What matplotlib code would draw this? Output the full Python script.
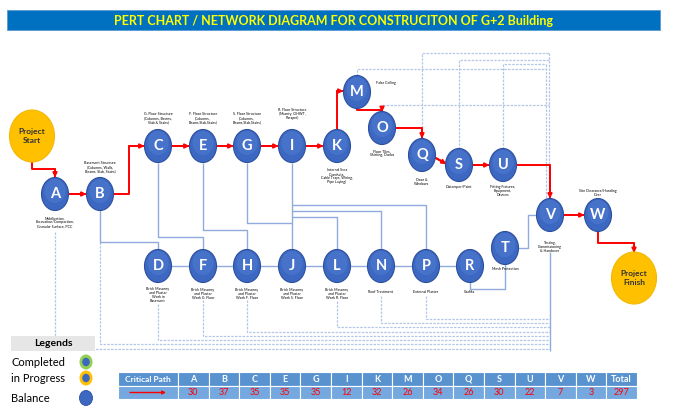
import matplotlib
matplotlib.use("Agg")
import matplotlib.pyplot as plt
from matplotlib.patches import Ellipse, Rectangle

plt.rcParams['font.family'] = ['Lato', 'DejaVu Sans']

# critical path table
path_nodes = ['A', 'B', 'C', 'E', 'G', 'I', 'K', 'M', 'O', 'Q', 'S', 'U', 'V', 'W']
path_days = [30, 37, 35, 35, 35, 12, 32, 26, 34, 26, 30, 22, 7, 3]
path_total = 297

# activities and their notes
activities = ['A', 'B', 'C', 'D', 'E', 'F', 'G', 'H', 'I', 'J', 'K', 'L',
              'M', 'N', 'O', 'P', 'Q', 'R', 'S', 'T', 'U', 'V', 'W']
notes = {
    'A': 'Mobilization,\nExcavation/Compaction,\nGranular Surface, PCC',
    'B': 'Basement Structure\n(Columns, Walls,\nBeams, Slab, Stairs)',
    'C': 'G. Floor Structure\n(Columns, Beams,\nSlab & Stairs)',
    'D': 'Brick Masonry\nand Plaster\nWork in\nBasement',
    'E': 'F. Floor Structure\n(Columns,\nBeams,Slab,Stairs)',
    'F': 'Brick Masonry\nand Plaster\nWork G. Floor',
    'G': 'S. Floor Structure\n(Columns,\nBeams,Slab,Stairs)',
    'H': 'Brick Masonry\nand Plaster\nWork F. Floor',
    'I': 'R. Floor Structure\n(Mumty, OHWT,\nParapet)',
    'J': 'Brick Masonry\nand Plaster\nWork S. Floor',
    'K': 'Internal Svcs\n(Conduits,\nCable Trays, Wiring,\nPipe Laying)',
    'L': 'Brick Masonry\nand Plaster\nWork R. Floor',
    'M': 'False Ceiling',
    'N': 'Roof Treatment',
    'O': 'Floor Tiles,\nSkirting, Dados',
    'P': 'External Plaster',
    'Q': 'Door &\nWindows',
    'R': 'Grafiks',
    'S': 'Distemper/Paint',
    'T': 'Mesh Protection',
    'U': 'Fitting Fixtures,\nEquipment,\nDevices',
    'V': 'Testing,\nCommissioning\n& Handover',
    'W': 'Site Clearance/Handing\nOver',
}

# layout (pixel space of the 680x412 canvas)
TOP, BOT = 146, 266
pos = {
    'A': (55, 194), 'B': (100, 194),
    'C': (158, TOP), 'E': (203, TOP), 'G': (247, TOP), 'I': (292, TOP), 'K': (337, TOP),
    'D': (158, BOT), 'F': (203, BOT), 'H': (247, BOT), 'J': (292, BOT), 'L': (337, BOT),
    'N': (381, BOT), 'P': (426, BOT), 'R': (470, BOT),
    'M': (357, 92), 'O': (382, 128), 'Q': (422, 155), 'S': (459, 165), 'U': (503, 165),
    'T': (505, 248), 'V': (550, 215), 'W': (598, 215),
}
note_pos = {
    'A': (55, 222), 'B': (100, 167), 'C': (158, 118), 'E': (203, 118), 'G': (247, 118),
    'I': (292, 114), 'K': (337, 176), 'M': (386, 83), 'O': (382, 153), 'Q': (422, 182),
    'S': (459, 187), 'U': (503, 191), 'V': (550, 247), 'W': (598, 193), 'T': (505, 269),
    'D': (158, 295), 'F': (203, 294), 'H': (247, 294), 'J': (292, 294), 'L': (337, 294),
    'N': (381, 292), 'P': (426, 292), 'R': (470, 292),
}
RX, RY = 13.5, 16.5

SOLID = '#8FAADC'
DASH = '#B4C7E7'
RED = '#FF0000'

fig = plt.figure(figsize=(6.8, 4.12), dpi=100)
ax = fig.add_axes([0, 0, 1, 1])
ax.set_xlim(0, 680)
ax.set_ylim(412, 0)
ax.axis('off')


def line(pts, color=SOLID, lw=1.0, ls='-', z=1):
    xs, ys = zip(*pts)
    ax.plot(xs, ys, color=color, lw=lw, ls=ls, zorder=z, solid_capstyle='butt')


def red(pts):
    line(pts, color=RED, lw=1.4, z=3)
    ax.annotate('', xy=pts[-1], xytext=pts[-2],
                arrowprops=dict(arrowstyle='-|>', color=RED, lw=1.4,
                                mutation_scale=6, shrinkA=0, shrinkB=0), zorder=4)


# title bar
ax.add_patch(Rectangle((7, 10), 653, 20, facecolor='#0070C0', edgecolor='#5B9BD5', lw=0.6))
ax.text(333, 20.5, 'PERT CHART / NETWORK DIAGRAM FOR CONSTRUCITON OF G+2 Building',
        color='#FFFF00', fontsize=9, fontweight='bold', ha='center', va='center')

# dashed links at the bottom (into V)
dash_bottom = [('A', 232, 349), ('B', 242, 344), ('D', 304, 340), ('F', 300, 336),
               ('H', 300, 332), ('L', 301, 327), ('N', 296, 323), ('P', 296, 319)]
for k, y0, y1 in dash_bottom:
    x = pos[k][0]
    line([(x, y0), (x, y1), (550, y1)], color=DASH, lw=0.9, ls=(0, (2, 1)))

# dashed links at the top (into V)
dash_top = [('M', 69, 546), ('O', 105, 549), ('Q', 53, 549), ('S', 60, 549), ('U', 64, 546)]
for k, yy, xr in dash_top:
    x, y = pos[k]
    line([(x, y - RY), (x, yy), (xr, yy)], color=DASH, lw=0.9, ls=(0, (2, 1)))
line([(546, 64), (546, 199)], color=DASH, lw=0.9, ls=(0, (2, 1)))
line([(549, 53), (549, 199)], color=DASH, lw=0.9, ls=(0, (2, 1)))

# solid links
line([(100, 210), (100, 242), (158, 242), (158, 250)])
line([(158, 163), (158, 237), (203, 237), (203, 250)])
line([(203, 163), (203, 230), (247, 230), (247, 250)])
line([(247, 163), (247, 223), (292, 223)])
line([(292, 163), (292, 250)])
line([(292, 205), (426, 205), (426, 250)])
line([(292, 211), (381, 211), (381, 250)])
line([(292, 217), (337, 217), (337, 250)])
line([(158, BOT), (470, BOT)])
line([(470, 282), (470, 289), (505, 289), (505, 264)])
line([(518, 248), (528, 248), (528, 215), (537, 215)])
line([(550, 252), (550, 351)])

# critical path arrows
red([(32, 162), (32, 169), (55, 169), (55, 177.5)])
red([(68.5, 194), (86.5, 194)])
red([(113.5, 194), (129, 194), (129, TOP), (144.5, TOP)])
for a, b in [('C', 'E'), ('E', 'G'), ('G', 'I'), ('I', 'K')]:
    red([(pos[a][0] + RX, TOP), (pos[b][0] - RX, TOP)])
red([(337, 129.5), (337, 91), (343.5, 91)])
red([(357, 108.5), (357, 110), (382, 110), (382, 112)])
red([(395.5, 128), (422, 128), (422, 138.5)])
red([(434, 157), (446.5, 164)])
red([(472.5, 165), (489.5, 165)])
red([(516.5, 165), (550, 165), (550, 198.5)])
red([(563.5, 215), (584.5, 215)])
red([(598, 231.5), (598, 243), (634, 243), (634, 253)])

# nodes
for k in activities:
    x, y = pos[k]
    ax.add_patch(Ellipse((x, y), 2 * RX, 2 * RY, facecolor='#3D68C2',
                         edgecolor='#2B4F9E', lw=0.8, zorder=5))
    ax.add_patch(Ellipse((x, y - 3), 2 * RX - 6, 2 * RY - 9, facecolor='#4F7ACF',
                         edgecolor='none', alpha=0.6, zorder=5))
    ax.text(x, y, k, color='white', fontsize=10.5, fontweight='bold',
            ha='center', va='center', zorder=6)
    nx, ny = note_pos[k]
    ax.text(nx, ny, notes[k], fontsize=2.6, ha='center', va='center',
            linespacing=1.0, zorder=6)

for (x, y), label in [((32, 136), 'Project\nStart'), ((634, 278), 'Project\nFinish')]:
    ax.add_patch(Ellipse((x, y), 45, 52, facecolor='#FFC000', edgecolor='#F2B800',
                         lw=0.8, zorder=5))
    ax.text(x, y, label, fontsize=6, fontweight='bold', color='#333333',
            ha='center', va='center', linespacing=1.3, zorder=6)

# legend
ax.add_patch(Rectangle((11, 336), 84, 15, facecolor='#E7E6E6', edgecolor='none', zorder=5))
ax.text(53, 344, 'Legends', fontsize=7.5, fontweight='bold', ha='center', va='center', zorder=6)
legend_items = [('Completed', '#92D050'), ('in Progress', '#FFC000'), ('Balance', None)]
for i, (lab, ring) in enumerate(legend_items):
    y = [362, 378, 398][i]
    ax.text(11, y, lab, fontsize=8, ha='left', va='center')
    if ring:
        ax.add_patch(Ellipse((86, y), 13, 15, facecolor=ring, edgecolor='none'))
        ax.add_patch(Ellipse((86, y), 7.5, 8.5, facecolor='#3D68C2', edgecolor='none'))
    else:
        ax.add_patch(Ellipse((86, y), 13, 15, facecolor='#3D68C2', edgecolor='#2B4F9E', lw=0.6))

# critical path table
x0, w0, w = 118, 60, 30.6
ya, yb, yc = 372, 386, 399
hdr, val = '#5893D0', '#74A8DF'
ax.add_patch(Rectangle((x0, ya), w0, yb - ya, facecolor=hdr, edgecolor='white', lw=0.8))
ax.add_patch(Rectangle((x0, yb), w0, yc - yb, facecolor=val, edgecolor='white', lw=0.8))
ax.text(x0 + w0 / 2, (ya + yb) / 2, 'Critical Path', color='white', fontsize=6,
        fontweight='bold', ha='center', va='center')
ax.annotate('', xy=(x0 + 48, (yb + yc) / 2), xytext=(x0 + 12, (yb + yc) / 2),
            arrowprops=dict(arrowstyle='-|>', color=RED, lw=1.0, mutation_scale=5,
                            shrinkA=0, shrinkB=0))
heads = path_nodes + ['Total']
vals = path_days + [path_total]
for i, (h, v) in enumerate(zip(heads, vals)):
    cx = x0 + w0 + i * w
    ax.add_patch(Rectangle((cx, ya), w, yb - ya, facecolor=hdr, edgecolor='white', lw=0.8))
    ax.add_patch(Rectangle((cx, yb), w, yc - yb, facecolor=val, edgecolor='white', lw=0.8))
    ax.text(cx + w / 2, (ya + yb) / 2, h, color='white', fontsize=6.5,
            fontweight='bold', ha='center', va='center')
    ax.text(cx + w / 2, (yb + yc) / 2, str(v), color=RED, fontsize=6.5,
            ha='center', va='center')

fig.savefig('out.png', dpi=100)
